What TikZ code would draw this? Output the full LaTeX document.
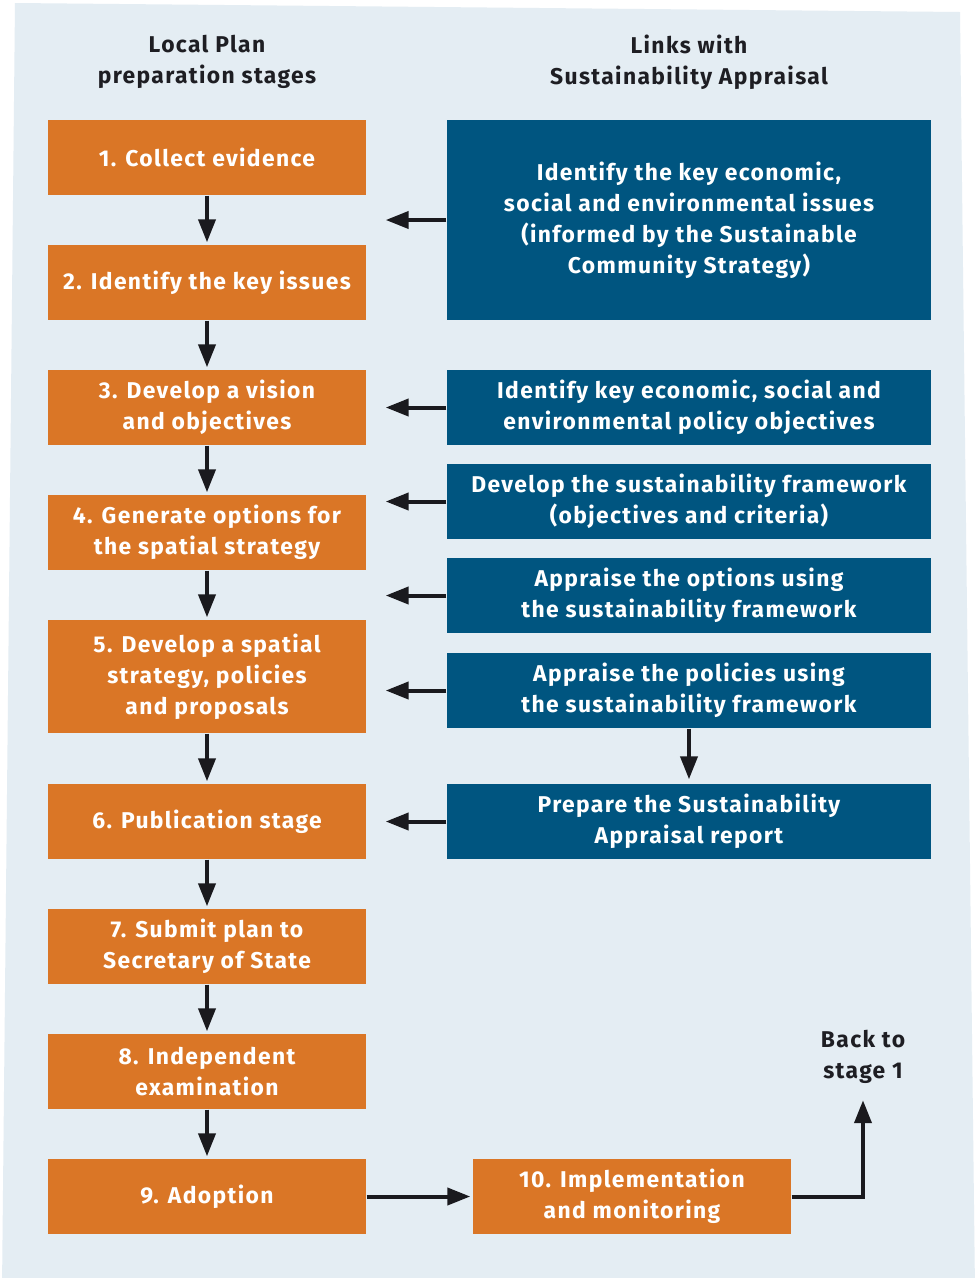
\documentclass[tikz,border=0pt]{standalone}
\usepackage{fontspec}
\setmainfont{Fira Sans}[LetterSpace=6]
\usetikzlibrary{arrows.meta}

\definecolor{planorange}{RGB}{218,118,38}
\definecolor{sablue}{RGB}{0,85,128}
\definecolor{panel}{RGB}{228,237,243}
\definecolor{arrowgrey}{RGB}{26,26,30}
\definecolor{headgrey}{RGB}{30,30,35}

\begin{document}
\begin{tikzpicture}[thick, node distance=2.5cm, font=\bfseries\fontsize{13}{17.6}\selectfont]
        \tikzstyle{stage}=[rectangle, fill=planorange, text=white, minimum width=6.36cm, minimum height=1.5cm, inner sep=0pt, align=center]
        \tikzstyle{sa}=[rectangle, fill=sablue, text=white, minimum width=9.68cm, minimum height=1.5cm, inner sep=0pt, align=center]
        \tikzstyle{arr}=[-{Triangle[length=0.46cm, width=0.34cm]}, line width=0.08cm, draw=arrowgrey]
        \tikzstyle{heading}=[align=center, text=headgrey]

        % page and tilted panel
        \useasboundingbox (-4.14,3.15) rectangle (15.38,-22.41);
        \fill[white] (-4.14,3.15) rectangle (15.38,-22.41);
        \fill[panel] (-3.84,3.09) -- (15.06,2.91) -- (15.36,-22.65) -- (-4.10,-22.65) -- cycle;

        \node[stage] (s1) {1. Collect evidence};
        \node[stage, below of=s1] (s2) {2. Identify the key issues};
        \node[stage, below of=s2] (s3) {3. Develop a vision\\and objectives};
        \node[stage, below of=s3] (s4) {4. Generate options for\\the spatial strategy};
        \node[stage, below of=s4, node distance=2.88cm, minimum height=2.26cm] (s5) {5. Develop a spatial\\strategy, policies\\and proposals};
        \node[stage, below of=s5, node distance=2.9cm] (s6) {6. Publication stage};
        \node[stage, below of=s6] (s7) {7. Submit plan to\\Secretary of State};
        \node[stage, below of=s7] (s8) {8. Independent\\examination};
        \node[stage, below of=s8] (s9) {9. Adoption};
        \node[stage, right of=s9, node distance=8.5cm] (s10) {10. Implementation\\and monitoring};

        \node[sa, right of=s3, node distance=9.64cm] (objectives) {Identify key economic, social and\\environmental policy objectives};
        \node[sa, above of=objectives, node distance=3.75cm, minimum height=4cm] (issues) {Identify the key economic,\\social and environmental issues\\(informed by the Sustainable\\Community Strategy)};
        \node[sa, below of=objectives, node distance=1.88cm] (framework) {Develop the sustainability framework\\(objectives and criteria)};
        \node[sa, below of=framework, node distance=1.88cm] (options) {Appraise the options using\\the sustainability framework};
        \node[sa, below of=options, node distance=1.9cm] (policies) {Appraise the policies using\\the sustainability framework};
        \node[sa, right of=s6, node distance=9.64cm] (report) {Prepare the Sustainability\\Appraisal report};

        \node[heading, above of=s1, node distance=1.91cm] (planhead) {Local Plan\\preparation stages};
        \node[heading, above of=issues, node distance=3.16cm] (sahead) {Links with\\Sustainability Appraisal};
        \node[heading, right of=s10, node distance=4.62cm, yshift=2.79cm] (back) {Back to\\stage 1};

        \draw[arr, shorten >=0.04cm] (s1) -- (s2);
        \draw[arr, shorten >=0.04cm] (s2) -- (s3);
        \draw[arr, shorten >=0.04cm] (s3) -- (s4);
        \draw[arr, shorten >=0.04cm] (s4) -- (s5);
        \draw[arr, shorten >=0.04cm] (s5) -- (s6);
        \draw[arr, shorten >=0.04cm] (s6) -- (s7);
        \draw[arr, shorten >=0.04cm] (s7) -- (s8);
        \draw[arr, shorten >=0.04cm] (s8) -- (s9);
        \draw[arr, shorten >=0.04cm] (s9) -- (s10);
        \draw[arr, shorten >=0.2cm] (s10.east) -| (back.south);

        \draw[arr, shorten >=0.38cm] (issues.west) -- (issues.west -| s1.east);
        \draw[arr, shorten >=0.38cm] (objectives.west) -- (objectives.west -| s3.east);
        \draw[arr, shorten >=0.38cm] (framework.west) -- (framework.west -| s4.east);
        \draw[arr, shorten >=0.38cm] (options.west) -- (options.west -| s4.east);
        \draw[arr, shorten >=0.38cm] (policies.west) -- (policies.west -| s5.east);
        \draw[arr, shorten >=0.38cm] (report.west) -- (report.west -| s6.east);
        \draw[arr, shorten >=0.08cm] (policies) -- (report);
    \end{tikzpicture}
\end{document}
